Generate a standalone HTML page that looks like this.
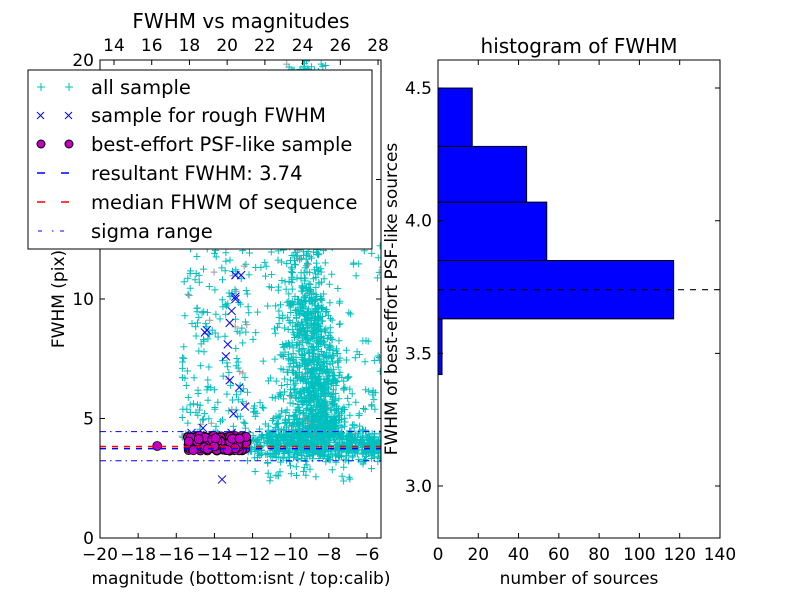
<!DOCTYPE html>
<html><head><meta charset="utf-8"><style>
html,body{margin:0;padding:0;background:#fff;}
svg{display:block;font-family:"DejaVu Sans","Liberation Sans",sans-serif;}
</style></head><body>
<svg id="s" width="800" height="600" viewBox="0 0 800 600" xmlns="http://www.w3.org/2000/svg">
<defs><clipPath id="c1"><rect x="100" y="60" width="281" height="478"/></clipPath></defs>
<rect width="800" height="600" fill="#fff"/>
<g id="pts" clip-path="url(#c1)"></g>
<g id="ax"></g>
</svg>
<script>
var s=document.getElementById('pts'),ax=document.getElementById('ax');
var seed=12345;function r(){seed=(seed*1103515245+12345)%2147483648;return seed/2147483648;}
function g(){return (r()+r()+r()+r()-2)*1.732;}
function X(m){return 100+(m+20)*19.07;}function Y(f){return 538-f*23.9;}
var h='';
function plus(x,y,c){h+='<path d="M'+(x-3.5).toFixed(1)+' '+y.toFixed(1)+'h7M'+x.toFixed(1)+' '+(y-3.5).toFixed(1)+'v7" stroke="'+c+'" stroke-width="1" fill="none"/>';}
var C='#00bfbf';
for(var i=0;i<280;i++){var m=-15.7+r()*3.6,f=4.2+Math.pow(r(),1.2)*13;plus(X(m),Y(f),r()<0.08?'#999':C);}
for(var i=0;i<1000;i++){var f=4.2+Math.pow(r(),1.9)*16;var d=f<10?(10-f):0;var m=-9.3+d*0.1+g()*(0.6+d*0.1);plus(X(m),Y(f),r()<0.05?'#999':C);}
for(var i=0;i<500;i++){var f=4.5+Math.pow(r(),1.3)*5.5;var m=-8.9+(9-f)*0.1+g()*0.6;plus(X(m),Y(f),C);}
for(var i=0;i<180;i++){var m=-12+r()*6.8,f=4+Math.pow(r(),2)*10;plus(X(m),Y(f),C);}
for(var i=0;i<550;i++){var m=-12.3+Math.pow(r(),0.8)*7.3,f=3.85+g()*0.3;plus(X(m),Y(f),C);}
for(var i=0;i<40;i++){var m=-12+r()*7,f=2.3+r()*1.2;plus(X(m),Y(f),C);}
var bx=[[-14.5,8.6],[-14.4,8.7],[-13.1,9.5],[-13.2,9],[-12.9,10.1],[-12.9,10],[-12.3,12.3],[-12.9,11],[-12.6,11],[-13.3,8.1],[-13.4,7.6],[-13.2,6.6],[-12.7,6.3],[-13.0,5.2],[-12.4,5.5],[-14.6,4.6],[-13.6,2.45],[-13.1,4.4],[-15.2,4.4]];
bx.forEach(function(p){var x=X(p[0]),y=Y(p[1]);h+='<path d="M'+(x-4)+' '+(y-4)+'l8 8M'+(x+4)+' '+(y-4)+'l-8 8" stroke="#0000ff" stroke-width="1"/>';});
h+='<circle cx="'+X(-17)+'" cy="'+Y(3.85)+'" r="4.5" fill="#bf00bf" stroke="#000" stroke-width="0.8"/>';
for(var i=0;i<170;i++){var m=-15.4+r()*3.1,f=3.65+r()*0.65;h+='<circle cx="'+X(m).toFixed(1)+'" cy="'+Y(f).toFixed(1)+'" r="4.5" fill="#bf00bf" stroke="#000" stroke-width="0.8"/>';}
h+='<line x1="100" x2="381" y1="'+Y(4.45)+'" y2="'+Y(4.45)+'" stroke="#00f" stroke-dasharray="6,4,1.5,4"/>';
h+='<line x1="100" x2="381" y1="'+Y(3.23)+'" y2="'+Y(3.23)+'" stroke="#00f" stroke-dasharray="6,4,1.5,4"/>';
h+='<line x1="100" x2="381" y1="'+Y(3.74)+'" y2="'+Y(3.74)+'" stroke="#00f" stroke-width="1.5" stroke-dasharray="6,6"/>';
h+='<line x1="100" x2="381" y1="'+Y(3.83)+'" y2="'+Y(3.83)+'" stroke="#f00" stroke-width="1.5" stroke-dasharray="6,6"/>';
s.innerHTML=h;
var a='';
function t(x,y,txt,anc,sz,rot){a+='<text x="'+x+'" y="'+y+'" text-anchor="'+(anc||'middle')+'" font-size="'+(sz||17)+'"'+(rot?' transform="rotate(-90 '+x+' '+y+')"':'')+'>'+txt+'</text>';}
a+='<rect x="100" y="60" width="281" height="478" fill="none" stroke="#000"/>';
for(var v=-20;v<=-6;v+=2){var x=X(v);a+='<path d="M'+x+' 538v-5" stroke="#000"/>';t(x,560,(v<0?'\u2212':'')+Math.abs(v));}
for(var v=0;v<=20;v+=5){var y=Y(v);a+='<path d="M100 '+y+'h5M381 '+y+'h-5" stroke="#000"/>';t(94,y+6,v,'end');}
for(var v=14;v<=28;v+=2){var x=114+(v-14)*18.86;a+='<path d="M'+x+' 60v5" stroke="#000"/>';t(x,51,v);}
t(241,28,'FWHM vs magnitudes','middle',20);
t(241,584,'magnitude (bottom:isnt / top:calib)');
t(64,299,'FWHM (pix)','middle',17,1);
a+='<rect x="28" y="70" width="344" height="179" fill="#fff" stroke="#000"/>';
var ly=[87,115,144,173,202,231];
a+='<path d="M37 87h8M41 83v8M65 87h8M69 83v8" stroke="'+C+'"/>';
a+='<path d="M37 112l7 7M44 112l-7 7M65 112l7 7M72 112l-7 7" stroke="#00f"/>';
a+='<circle cx="41" cy="144" r="4" fill="#bf00bf" stroke="#000"/><circle cx="69" cy="144" r="4" fill="#bf00bf" stroke="#000"/>';
a+='<path d="M37 173h8M61 173h8" stroke="#00f" stroke-width="1.5"/><path d="M37 202h8M61 202h8" stroke="#f00" stroke-width="1.5"/>';
a+='<path d="M38 231h4M52 231h1.5M60 231h4" stroke="#00f"/>';
['all sample','sample for rough FWHM','best-effort PSF-like sample','resultant FWHM: 3.74','median FHWM of sequence','sigma range'].forEach(function(s,i){t(91,ly[i]+7,s,'start',19.5);});
function HY(v){return 486-(v-3)*265.3;}function HX(c){return 438+c*2.014;}
var bins=[[3.42,3.63,2],[3.63,3.85,117],[3.85,4.07,54],[4.07,4.28,44],[4.28,4.5,17]];
bins.forEach(function(b){a+='<rect x="438" y="'+HY(b[1])+'" width="'+(HX(b[2])-438)+'" height="'+(HY(b[0])-HY(b[1]))+'" fill="#00f" stroke="#000"/>';});
a+='<line x1="438" x2="720" y1="'+HY(3.74)+'" y2="'+HY(3.74)+'" stroke="#000" stroke-width="1.2" stroke-dasharray="6,6"/>';
a+='<rect x="438" y="60" width="282" height="478" fill="none" stroke="#000"/>';
for(var v=0;v<=140;v+=20){var x=HX(v);a+='<path d="M'+x+' 538v-5M'+x+' 60v5" stroke="#000"/>';t(x,560,v);}
[3.0,3.5,4.0,4.5].forEach(function(v){var y=HY(v);a+='<path d="M438 '+y+'h5M720 '+y+'h-5" stroke="#000"/>';t(432,y+6,v.toFixed(1),'end');});
t(579,53,'histogram of FWHM','middle',20);
t(579,584,'number of sources');
t(397,299,'FWHM of best-effort PSF-like sources','middle',17,1);
ax.innerHTML=a;
</script>
</body></html>
